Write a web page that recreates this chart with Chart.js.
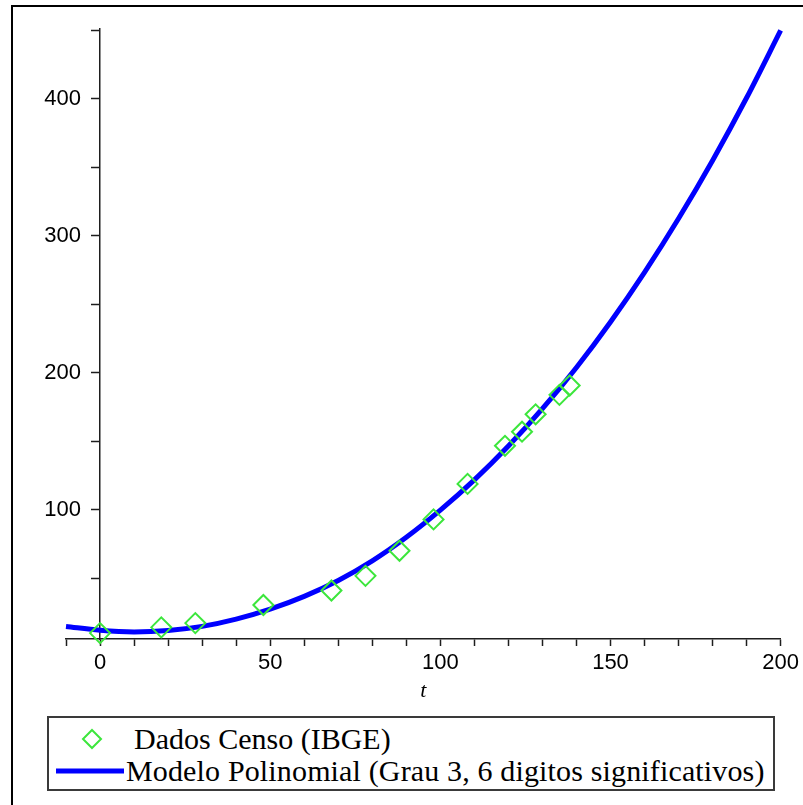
<!DOCTYPE html>
<html lang="pt-BR">
<head>
<meta charset="utf-8">
<title>Dados Censo (IBGE) e Modelo Polinomial</title>
<script src="https://cdn.jsdelivr.net/npm/chart.js@4.4.1/dist/chart.umd.min.js"></script>
<style>
    html, body { margin: 0; padding: 0; background: #fff; overflow: hidden; }
    #wrap { position: relative; width: 803px; height: 805px; overflow: hidden; }
    #frame { position: absolute; left: 11px; top: 5px; width: 900px; height: 900px; border: 2px solid #000; }
    #chartBox { position: absolute; left: 0; top: 0; width: 803px; height: 805px; }
    #legend {
        position: absolute; left: 47px; top: 716px; width: 724px; height: 71px;
        border: 2px solid #3a3a3a; background: #fff;
        font-family: "Liberation Serif", "Times New Roman", serif; font-size: 30px; color: #000;
    }
    #legend .item { position: absolute; left: 0; height: 32px; width: 100%; }
    #legend .label { position: absolute; top: 0; line-height: 32px; white-space: nowrap; }
    #legend svg { position: absolute; }
</style>
</head>
<body>
<div id="wrap">
    <div id="frame"></div>
    <div id="chartBox"><canvas id="censoChart"></canvas></div>
    <div id="legend"></div>
</div>
<script>
// Dados do censo (t = anos desde 1872, população em milhões)
const censoT = [0, 18, 28, 48, 68, 78, 88, 98, 108, 119, 124, 128, 135, 138];
const censoPop = [10.1, 14.3, 17.4, 30.6, 41.2, 51.9, 70.2, 93.1, 119.0, 146.8, 157.1, 169.8, 184.0, 190.8];

// Curva do modelo
const modeloT = [-10, 0, 10, 20, 30, 40, 50, 60, 70, 80, 90, 100, 110, 120, 130, 140, 150, 160, 170, 180, 190, 200];
const modeloPop = [15.0, 12.2, 11.0, 12.0, 15.0, 20.3, 27.6, 36.9, 48.5, 62.8, 80.0, 99.8, 121.9, 146.6, 173.9, 204.0, 237.2, 273.4, 312.7, 355.1, 400.8, 450.0];

const seriesNames = ['Dados Censo (IBGE)', 'Modelo Polinomial (Grau 3, 6 digitos significativos)'];
const xLabels = [0, 50, 100, 150, 200];
const yLabels = [100, 200, 300, 400];
const xTitle = 't';

const corCenso = 'rgb(60, 230, 60)';
const corModelo = '#0000ff';
const corEixo = '#1e1e1e';
const fonteTicks = { family: '"Liberation Sans", Arial, sans-serif', size: 22 };

// Rótulos do eixo y (o eixo fica em t = 0, então o Chart.js não aplica o padding)
const rotulosY = {
    id: 'rotulosY',
    afterDraw(chart) {
        const { ctx, scales: { x, y } } = chart;
        const x0 = x.getPixelForValue(0);
        ctx.save();
        ctx.font = `${fonteTicks.size}px ${fonteTicks.family}`;
        ctx.fillStyle = '#000';
        ctx.textAlign = 'right';
        ctx.textBaseline = 'middle';
        yLabels.forEach(v => ctx.fillText(String(v), x0 - 19, y.getPixelForValue(v)));
        ctx.restore();
    }
};

document.addEventListener('DOMContentLoaded', () => {
    desenhaGrafico();
    montaLegenda();
});

function desenhaGrafico() {
    const ctx = document.getElementById('censoChart').getContext('2d');
    new Chart(ctx, {
        type: 'line',
        data: {
            datasets: [
                {
                    label: seriesNames[1],
                    data: modeloT.map((t, i) => ({ x: t, y: modeloPop[i] })),
                    borderColor: corModelo,
                    borderWidth: 5,
                    pointRadius: 0,
                    cubicInterpolationMode: 'monotone',
                    fill: false,
                    clip: false,
                    order: 2
                },
                {
                    label: seriesNames[0],
                    data: censoT.map((t, i) => ({ x: t, y: censoPop[i] })),
                    showLine: false,
                    pointStyle: 'rectRot',
                    pointRadius: 10,
                    pointBorderWidth: 2,
                    pointBorderColor: corCenso,
                    pointBackgroundColor: 'rgba(0,0,0,0)',
                    clip: false,
                    order: 1
                }
            ]
        },
        options: {
            responsive: true,
            maintainAspectRatio: false,
            animation: false,
            layout: { padding: { left: 66, right: 21, top: 29, bottom: 100 } },
            plugins: {
                legend: { display: false },
                tooltip: { enabled: false }
            },
            scales: {
                x: {
                    type: 'linear',
                    min: -10,
                    max: 200,
                    afterFit: scale => { scale.height = 66; },
                    grid: { drawOnChartArea: false, drawTicks: true, tickLength: 7, tickWidth: 1.5, color: corEixo },
                    border: { display: true, color: corEixo, width: 1.5 },
                    ticks: {
                        stepSize: 10,
                        autoSkip: false,
                        maxRotation: 0,
                        padding: 4,
                        color: '#000',
                        font: fonteTicks,
                        callback: v => xLabels.includes(v) ? String(v) : ''
                    },
                    title: {
                        display: true,
                        text: xTitle,
                        color: '#000',
                        padding: { top: 0, bottom: 1 },
                        font: { family: '"Liberation Serif", serif', size: 22, style: 'italic' }
                    }
                },
                y: {
                    type: 'linear',
                    position: { x: 0 },
                    min: 5.8,
                    max: 451,
                    grid: { drawOnChartArea: false, drawTicks: true, tickLength: 8, tickWidth: 1.5, color: corEixo },
                    border: { display: true, color: corEixo, width: 1.5 },
                    ticks: {
                        stepSize: 50,
                        includeBounds: false,
                        autoSkip: false,
                        font: fonteTicks,
                        callback: () => ''
                    }
                }
            }
        },
        plugins: [rotulosY]
    });
}

function montaLegenda() {
    const legend = document.getElementById('legend');
    // Linha 1: marcador losango, linha 2: traço azul
    legend.innerHTML = `
        <div class="item" style="top:5px">
            <svg width="24" height="24" style="left:31px; top:4px">
                <polygon points="12,3 21,12 12,21 3,12" fill="none" stroke="${corCenso}" stroke-width="2"/>
            </svg>
            <div class="label" style="left:85px">${seriesNames[0]}</div>
        </div>
        <div class="item" style="top:37px">
            <svg width="70" height="32" style="left:7px; top:0">
                <line x1="0" y1="16" x2="68" y2="16" stroke="${corModelo}" stroke-width="5"/>
            </svg>
            <div class="label" style="left:77px; letter-spacing:0.15px">${seriesNames[1]}</div>
        </div>`;
}
</script>
</body>
</html>
